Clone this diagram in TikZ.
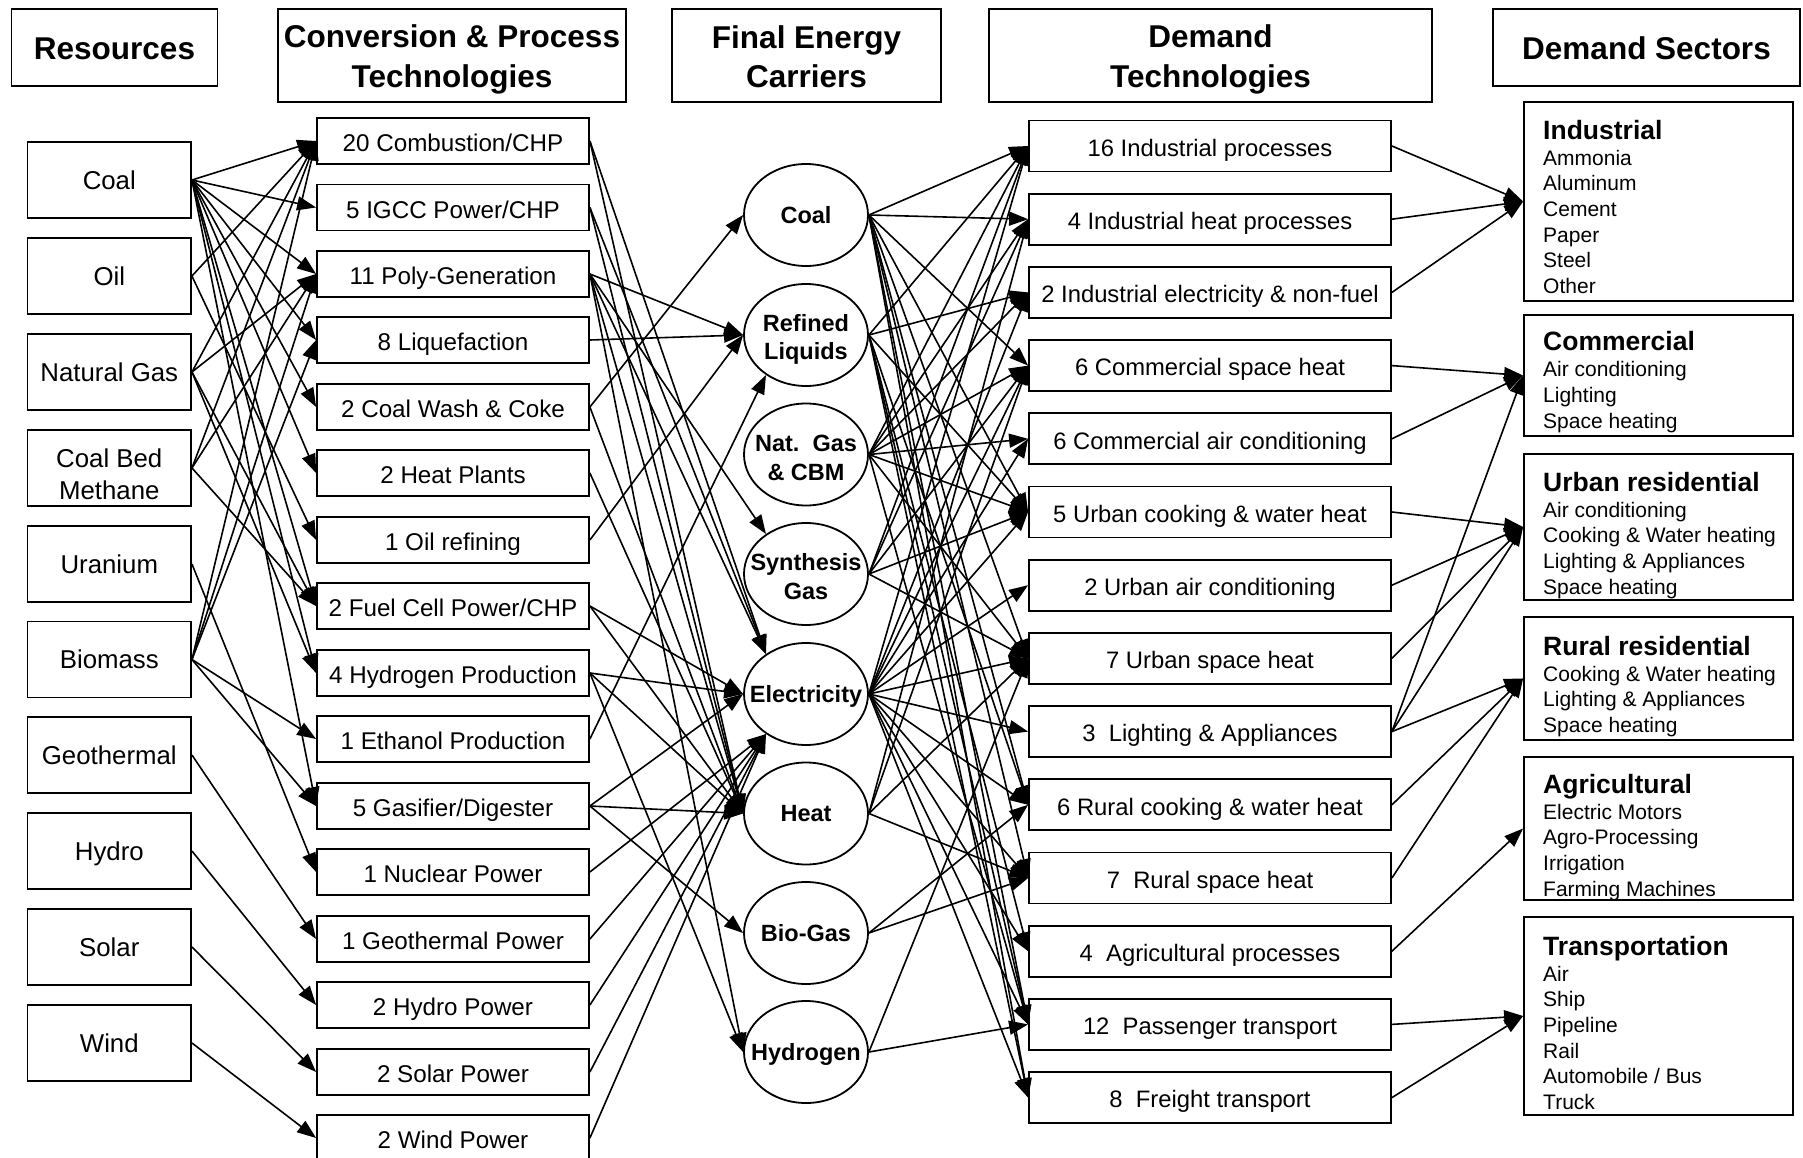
\documentclass[tikz,border=0pt]{standalone}
\usepackage{fontspec}
\setmainfont{Liberation Sans}
\usetikzlibrary{shapes.geometric,arrows.meta}
\newcommand\sectitle[1]{{\fontsize{26.5}{30}\selectfont\bfseries #1}}
\begin{document}
\begin{tikzpicture}[x=1pt,y=-1pt,
  box/.style={draw,line width=1.8pt,inner sep=0pt,align=center},
  hdr/.style={box,font=\fontsize{31.5}{40}\selectfont\bfseries},
  hdr1/.style={hdr,text height=26pt,text depth=1.2pt},
  hdrtext/.style={align=center,inner sep=0pt,font=\fontsize{31.5}{39.5}\selectfont\bfseries},
  res/.style={box,minimum width=163.5pt,minimum height=76pt,font=\fontsize{25.8}{32}\selectfont},
  res1/.style={res,text height=20pt,text depth=1.5pt},
  restext/.style={align=center,inner sep=0pt,font=\fontsize{25.8}{32}\selectfont},
  conv/.style={box,minimum width=272pt,minimum height=46pt,font=\fontsize{24.2}{29}\selectfont,text height=23.2pt,text depth=2pt},
  carell/.style={draw,ellipse,line width=1.8pt,inner sep=0pt,minimum width=124pt,minimum height=102pt},
  cartext/.style={align=center,inner sep=0pt,font=\fontsize{23.5}{28.5}\selectfont\bfseries},
  cartext1/.style={cartext,text height=18pt,text depth=1.2pt},
  dem/.style={box,minimum width=362pt,minimum height=51pt,font=\fontsize{23.8}{29}\selectfont,text height=22.4pt,text depth=1.8pt},
  secbox/.style={draw,line width=1.8pt,minimum width=269pt,inner sep=0pt},
  sectext/.style={anchor=north west,align=left,inner sep=0pt,font=\fontsize{21}{25.7}\selectfont},
  arr/.style={line width=1.6pt,-{Triangle[length=19pt,width=14pt]}},
]
\useasboundingbox (0,0) rectangle (1803,1158);

% headers
\node[hdr1,minimum width=206pt,minimum height=77pt] (hres) at (114.5,47.5) {Resources};
\node[hdr,minimum width=348pt,minimum height=93pt] (hconv) at (452,55.5) {};
\node[hdr,minimum width=269pt,minimum height=93pt] (hcar) at (806.5,55.5) {};
\node[hdr,minimum width=443pt,minimum height=93pt] (hdem) at (1210.5,55.5) {};
\node[hdr1,minimum width=307pt,minimum height=77pt] (hsec) at (1646.5,47.5) {Demand Sectors};
\node[hdrtext] (thconv) at (452,59.5) {Conversion \& Process\\Technologies};
\node[hdrtext] (thcar) at (806.5,56.5) {Final Energy\\Carriers};
\node[hdrtext] (thdem) at (1210.5,59.5) {Demand\\Technologies};

% resources
\node[res1] (r1) at (109.3,180) {Coal};
\node[res1] (r2) at (109.3,276) {Oil};
\node[res1] (r3) at (109.3,372) {Natural Gas};
\node[res] (r4) at (109.3,468) {};
\node[restext] (tr4) at (109.3,474) {Coal Bed\\Methane};
\node[res1] (r5) at (109.3,564) {Uranium};
\node[res1] (r6) at (109.3,659.5) {Biomass};
\node[res1] (r7) at (109.3,755) {Geothermal};
\node[res1] (r8) at (109.3,851) {Hydro};
\node[res1] (r9) at (109.3,947) {Solar};
\node[res1] (r10) at (109.3,1043) {Wind};

% conversion
\node[conv] (c1) at (453,141) {20 Combustion/CHP};
\node[conv] (c2) at (453,207.5) {5 IGCC Power/CHP};
\node[conv] (c3) at (453,274) {11 Poly-Generation};
\node[conv] (c4) at (453,340) {8 Liquefaction};
\node[conv] (c5) at (453,407) {2 Coal Wash \& Coke};
\node[conv] (c6) at (453,473) {2 Heat Plants};
\node[conv] (c7) at (453,540) {1 Oil refining};
\node[conv] (c8) at (453,606) {2 Fuel Cell Power/CHP};
\node[conv] (c9) at (453,673) {4 Hydrogen Production};
\node[conv] (c10) at (453,739) {1 Ethanol Production};
\node[conv] (c11) at (453,806) {5 Gasifier/Digester};
\node[conv] (c12) at (453,872) {1 Nuclear Power};
\node[conv] (c13) at (453,939) {1 Geothermal Power};
\node[conv] (c14) at (453,1005) {2 Hydro Power};
\node[conv] (c15) at (453,1072) {2 Solar Power};
\node[conv] (c16) at (453,1138) {2 Wind Power};

% carriers
\node[carell] (ecoal) at (806,215) {};
\node[carell] (eliq) at (806,335) {};
\node[carell] (egas) at (806,454.5) {};
\node[carell] (esyn) at (806,574) {};
\node[carell] (eelec) at (806,694) {};
\node[carell] (eheat) at (806,813.5) {};
\node[carell] (ebio) at (806,933) {};
\node[carell] (ehyd) at (806,1052) {};
\node[cartext1] (tcoal) at (ecoal) {Coal};
\node[cartext] (tliq) at (806,339.5) {Refined\\Liquids};
\node[cartext] (tgas) at (806,458) {Nat.\ \ Gas\\\& CBM};
\node[cartext] (tsyn) at (806,576.5) {Synthesis\\Gas};
\node[cartext1] (telec) at (eelec) {Electricity};
\node[cartext1] (theat) at (eheat) {Heat};
\node[cartext1] (tbio) at (ebio) {Bio-Gas};
\node[cartext1] (thyd) at (ehyd) {Hydrogen};

% demand technologies
\node[dem] (d1) at (1210,146) {16 Industrial processes};
\node[dem] (d2) at (1210,219.2) {4 Industrial heat processes};
\node[dem] (d3) at (1210,292.4) {2 Industrial electricity \& non-fuel};
\node[dem] (d4) at (1210,365.6) {6 Commercial space heat};
\node[dem] (d5) at (1210,438.8) {6 Commercial air conditioning};
\node[dem] (d6) at (1210,512) {5 Urban cooking \& water heat};
\node[dem] (d7) at (1210,585.2) {2 Urban air conditioning};
\node[dem] (d8) at (1210,658.4) {7 Urban space heat};
\node[dem] (d9) at (1210,731.6) {3~ Lighting \& Appliances};
\node[dem] (d10) at (1210,804.8) {6 Rural cooking \& water heat};
\node[dem] (d11) at (1210,878) {7~ Rural space heat};
\node[dem] (d12) at (1210,951.2) {4~ Agricultural processes};
\node[dem] (d13) at (1210,1024.4) {12~ Passenger transport};
\node[dem] (d14) at (1210,1097.6) {8~ Freight transport};

% demand sectors
\node[secbox,minimum height=199pt] (s1) at (1658.5,201.5) {};
\node[secbox,minimum height=121pt] (s2) at (1658.5,375.5) {};
\node[secbox,minimum height=146pt] (s3) at (1658.5,527) {};
\node[secbox,minimum height=123pt] (s4) at (1658.5,678.5) {};
\node[secbox,minimum height=143pt] (s5) at (1658.5,828.5) {};
\node[secbox,minimum height=198pt] (s6) at (1658.5,1016) {};
\node[sectext] (t1) at (1543,120) {\sectitle{Industrial}\\Ammonia\\Aluminum\\Cement\\Paper\\Steel\\Other};
\node[sectext] (t2) at (1543,331.5) {\sectitle{Commercial}\\Air conditioning\\Lighting\\Space heating};
\node[sectext] (t3) at (1543,472) {\sectitle{Urban residential}\\Air conditioning\\Cooking \& Water heating\\Lighting \& Appliances\\Space heating};
\node[sectext] (t4) at (1543,636) {\sectitle{Rural residential}\\Cooking \& Water heating\\Lighting \& Appliances\\Space heating};
\node[sectext] (t5) at (1543,774) {\sectitle{Agricultural}\\Electric Motors\\Agro-Processing\\Irrigation\\Farming Machines};
\node[sectext] (t6) at (1543,936) {\sectitle{Transportation}\\Air\\Ship\\Pipeline\\Rail\\Automobile / Bus\\Truck};

% resources -> conversion
\foreach \a/\b in {r1/c1,r1/c2,r1/c3,r1/c4,r1/c5,r1/c6,r1/c8,r1/c9,r1/c11,
  r2/c1,r2/c7,r3/c1,r3/c3,r3/c8,r3/c9,r4/c1,r4/c3,r4/c8,r5/c12,
  r6/c1,r6/c3,r6/c4,r6/c10,r6/c11,r7/c13,r8/c14,r9/c15,r10/c16}
  \draw[arr] (\a.east) -- (\b.west);

% conversion -> carriers
\foreach \a/\b in {c1/eelec.135,c1/eheat.west,c2/eelec.135,c2/eheat.west,
  c3/eliq.west,c3/esyn.135,c3/eelec.135,c3/eheat.west,c3/ehyd.west,
  c4/eliq.west,c5/ecoal.west,c5/eheat.west,c6/eheat.west,c7/eliq.west,
  c8/eelec.west,c8/eheat.west,c9/eelec.west,c9/eheat.west,c9/ehyd.west,
  c10/eliq.225,c11/eelec.west,c11/eheat.west,c11/ebio.west,
  c12/eelec.225,c13/eelec.225,c14/eelec.225,c15/eelec.225,c16/eelec.225}
  \draw[arr] (\a.east) -- (\b);

% carriers -> demand technologies
\foreach \a/\b in {ecoal/d1,ecoal/d2,ecoal/d4,ecoal/d6,ecoal/d8,ecoal/d10,ecoal/d11,ecoal/d13,ecoal/d14,
  eliq/d1,eliq/d3,eliq/d6,eliq/d10,eliq/d12,eliq/d13,eliq/d14,
  egas/d1,egas/d2,egas/d3,egas/d4,egas/d5,egas/d6,egas/d8,egas/d13,
  esyn/d1,esyn/d2,esyn/d4,esyn/d6,esyn/d8,
  eelec/d1,eelec/d3,eelec/d4,eelec/d5,eelec/d6,eelec/d7,eelec/d8,eelec/d9,eelec/d10,eelec/d11,eelec/d12,eelec/d13,eelec/d14,
  eheat/d2,eheat/d4,eheat/d8,eheat/d11,ebio/d10,ebio/d11,ehyd/d8,ehyd/d13}
  \draw[arr] (\a.east) -- (\b.west);

% demand technologies -> sectors
\foreach \a/\b in {d1/s1,d2/s1,d3/s1,d4/s2,d5/s2,d6/s3,d7/s3,d8/s3,
  d9/s2,d9/s3,d9/s4,d10/s4,d11/s4,d12/s5,d13/s6,d14/s6}
  \draw[arr] (\a.east) -- (\b.west);
\end{tikzpicture}
\end{document}
